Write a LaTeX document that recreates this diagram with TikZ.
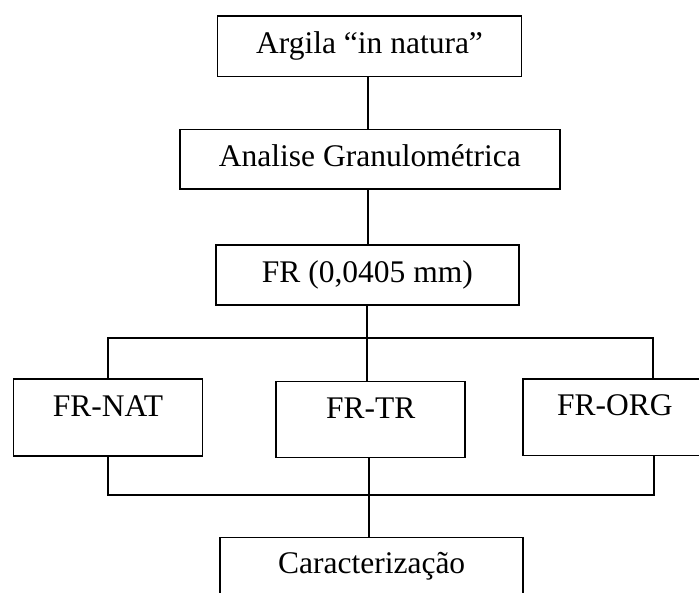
\documentclass[tikz,border=0pt]{standalone}
\usepackage{fontspec}
\setmainfont{Liberation Serif}
\begin{document}
\begin{tikzpicture}[x=1pt,y=-1pt,
  box/.style={draw, line width=1.7pt, inner xsep=0pt, inner ysep=0pt, anchor=north west,
    font=\fontsize{31.5}{36}\selectfont},
  conn/.style={line width=1.7pt}]
\useasboundingbox (0,0) rectangle (699,592);
\clip (0,0) rectangle (699,592);
\node[box, minimum width=304pt, text height=37.6pt, text depth=22.7pt] (argila) at (216.7,15.3) {Argila “in natura”};
\node[box, minimum width=380pt, text height=37.2pt, text depth=22.3pt] (analise) at (179,128.5) {Analise Granulométrica};
\node[box, minimum width=303pt, text height=37.7pt, text depth=22.3pt] (fr) at (215,244) {FR (0,0405 mm)};
\node[box, minimum width=189pt, text height=37.4pt, text depth=39.3pt] (frnat) at (12.7,378.3) {FR-NAT};
\node[box, minimum width=189pt, text height=37.3pt, text depth=38.7pt] (frtr) at (275.3,380.7) {FR-TR};
\node[box, minimum width=184pt, text height=36.7pt, text depth=39.5pt] (frorg) at (522,378.3) {FR-ORG};
\node[box, minimum width=303pt, text height=36.3pt, text depth=30pt] (carac) at (219.3,536.7) {Caracterização};
\coordinate (top1) at (368,0);
\coordinate (bus1) at (367,338);
\coordinate (bus2) at (369,494.7);
\draw[conn] (top1 |- argila.south) -- (top1 |- analise.north);
\draw[conn] (top1 |- analise.south) -- (top1 |- fr.north);
\draw[conn] (bus1 |- fr.south) -- (bus1);
\draw[conn] (frnat.north) |- (bus1) -| ([xshift=131pt]frorg.north west);
\draw[conn] (bus1) -- (bus1 |- frtr.north);
\draw[conn] (frnat.south) |- (bus2) -| ([xshift=132pt]frorg.south west);
\draw[conn] (bus2 |- frtr.south) -- (bus2 |- carac.north);
\end{tikzpicture}
\end{document}
